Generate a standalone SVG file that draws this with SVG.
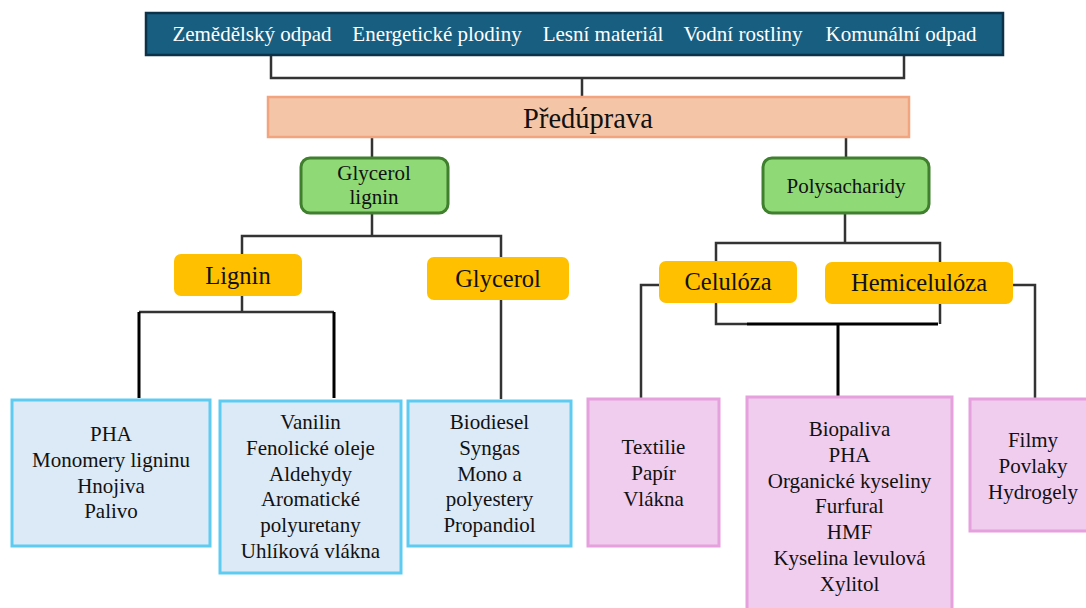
<svg xmlns="http://www.w3.org/2000/svg" width="1086" height="608" viewBox="0 0 1086 608">
<style>
text{font-family:"Liberation Serif","Times New Roman",serif;text-anchor:middle;fill:#111}
.top{fill:#175e80;stroke:#0b3248;stroke-width:2.5}
.topt{fill:#fff;font-size:21px}
.pre{fill:#f5c5a8;stroke:#f2a47f;stroke-width:2.5}
.grn{fill:#8fd977;stroke:#3f7f2d;stroke-width:3}
.org{fill:#ffc000}
.blu{fill:#dce9f6;stroke:#5ecbf1;stroke-width:3}
.pnk{fill:#f0cdee;stroke:#e5a0dd;stroke-width:3}
.t21{font-size:21px}
.t24{font-size:24.5px}
.ln{fill:none;stroke:#333;stroke-width:2.5}
.lnb{fill:none;stroke:#000;stroke-width:3}
</style>
<g id="connectors">
<path class="ln" d="M271 55V78H904V55M582 78V97"/>
<path class="ln" d="M372 138V158M846 138V158"/>
<path class="ln" d="M372 213V236M242 254V236H501V257"/>
<path class="ln" d="M242 296V312H139M242 312H334"/>
<path class="lnb" d="M139 312V398M334 312V398"/>
<path class="ln" d="M501 300V399"/>
<path class="ln" d="M845 213V243M716 261V243H940V262"/>
<path class="ln" d="M659 285H641V398M1013 285H1035V398"/>
<path class="ln" d="M716 303V324H747M940 304V324"/>
<path class="lnb" d="M747 324H938M838 324V396"/>
</g>
<g id="sources">
<rect class="top" x="146" y="13" width="857" height="42"/>
<text class="topt" x="252" y="41">Zemědělský odpad</text>
<text class="topt" x="437" y="41">Energetické plodiny</text>
<text class="topt" x="603" y="41">Lesní materiál</text>
<text class="topt" x="743" y="41">Vodní rostliny</text>
<text class="topt" x="901" y="41">Komunální odpad</text>
</g>
<g id="preduprava">
<rect class="pre" x="268" y="97" width="641" height="40"/>
<text x="588" y="128" style="font-size:28.5px">Předúprava</text>
</g>
<g id="glycerol-lignin">
<rect class="grn" x="301" y="158" width="147" height="55" rx="9"/>
<text class="t21" x="374" y="180">Glycerol</text>
<text class="t21" x="374" y="204">lignin</text>
</g>
<g id="polysacharidy">
<rect class="grn" x="763" y="158" width="166" height="55" rx="9"/>
<text class="t21" x="846" y="193">Polysacharidy</text>
</g>
<g id="lignin">
<rect class="org" x="174" y="254" width="128" height="42" rx="7"/>
<text class="t24" x="238" y="284">Lignin</text>
</g>
<g id="glycerol">
<rect class="org" x="427" y="257" width="142" height="43" rx="7"/>
<text class="t24" x="498" y="287">Glycerol</text>
</g>
<g id="celuloza">
<rect class="org" x="659" y="261" width="138" height="42" rx="7"/>
<text class="t24" x="728" y="290">Celulóza</text>
</g>
<g id="hemiceluloza">
<rect class="org" x="825" y="262" width="188" height="42" rx="7"/>
<text class="t24" x="919" y="291">Hemicelulóza</text>
</g>
<g id="lignin-produkty1">
<rect class="blu" x="12" y="400" width="198" height="146"/>
<text class="t21" x="111" y="441">PHA</text>
<text class="t21" x="111" y="467">Monomery ligninu</text>
<text class="t21" x="111" y="492.5">Hnojiva</text>
<text class="t21" x="111" y="518">Palivo</text>
</g>
<g id="lignin-produkty2">
<rect class="blu" x="220" y="401" width="181" height="172"/>
<text class="t21" x="310.5" y="429">Vanilin</text>
<text class="t21" x="310.5" y="455">Fenolické oleje</text>
<text class="t21" x="310.5" y="480.5">Aldehydy</text>
<text class="t21" x="310.5" y="506">Aromatické</text>
<text class="t21" x="310.5" y="532">polyuretany</text>
<text class="t21" x="310.5" y="557.5">Uhlíková vlákna</text>
</g>
<g id="glycerol-produkty">
<rect class="blu" x="408" y="401" width="163" height="145"/>
<text class="t21" x="489.5" y="429">Biodiesel</text>
<text class="t21" x="489.5" y="455">Syngas</text>
<text class="t21" x="489.5" y="480.5">Mono a</text>
<text class="t21" x="489.5" y="506">polyestery</text>
<text class="t21" x="489.5" y="532">Propandiol</text>
</g>
<g id="celuloza-produkty">
<rect class="pnk" x="588" y="399" width="131" height="147"/>
<text class="t21" x="653.5" y="454">Textilie</text>
<text class="t21" x="653.5" y="480">Papír</text>
<text class="t21" x="653.5" y="506">Vlákna</text>
</g>
<g id="hemiceluloza-produkty">
<rect class="pnk" x="747" y="397" width="205" height="215"/>
<text class="t21" x="849.5" y="436">Biopaliva</text>
<text class="t21" x="849.5" y="461.5">PHA</text>
<text class="t21" x="849.5" y="487.5">Organické kyseliny</text>
<text class="t21" x="849.5" y="513">Furfural</text>
<text class="t21" x="849.5" y="539">HMF</text>
<text class="t21" x="849.5" y="565">Kyselina levulová</text>
<text class="t21" x="849.5" y="591">Xylitol</text>
</g>
<g id="celuloza-hemiceluloza-produkty">
<rect class="pnk" x="970" y="399" width="120" height="132"/>
<text class="t21" x="1033" y="447">Filmy</text>
<text class="t21" x="1033" y="473">Povlaky</text>
<text class="t21" x="1033" y="498.5">Hydrogely</text>
</g>
</svg>
